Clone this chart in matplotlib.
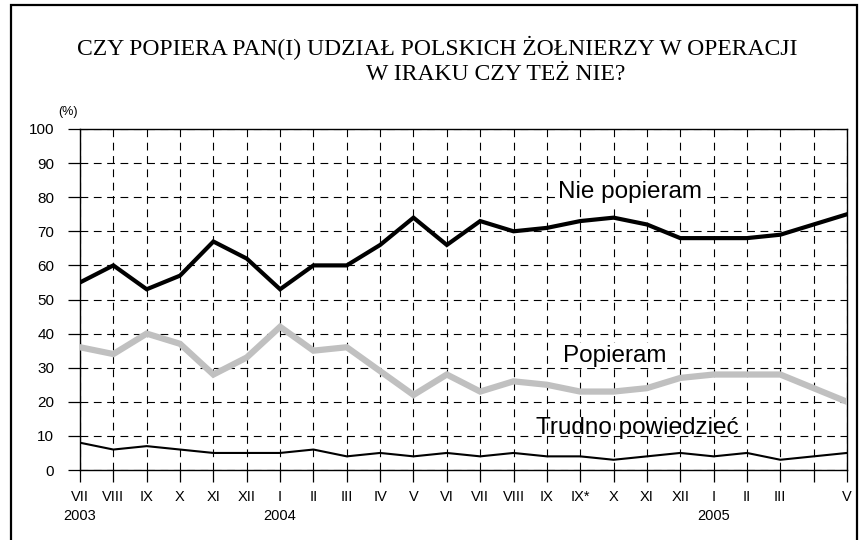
import matplotlib
matplotlib.use("Agg")
import matplotlib.pyplot as plt
from matplotlib.patches import Rectangle

# month labels on the x axis (IV 2005 has no survey)
months = ["VII", "VIII", "IX", "X", "XI", "XII", "I", "II", "III", "IV", "V", "VI",
          "VII", "VIII", "IX", "IX*", "X", "XI", "XII", "I", "II", "III", "", "V"]
years = {0: "2003", 6: "2004", 19: "2005"}
survey_idx = [i for i in range(len(months)) if months[i] != ""]

nie_popieram = [55, 60, 53, 57, 67, 62, 53, 60, 60, 66, 74, 66,
                73, 70, 71, 73, 74, 72, 68, 68, 68, 69, 75]
popieram = [36, 34, 40, 37, 28, 33, 42, 35, 36, 29, 22, 28,
            23, 26, 25, 23, 23, 24, 27, 28, 28, 28, 20]
trudno = [8, 6, 7, 6, 5, 5, 5, 6, 4, 5, 4, 5,
          4, 5, 4, 4, 3, 4, 5, 4, 5, 3, 5]

W, H = 862, 540
fig = plt.figure(figsize=(W / 100, H / 100), dpi=100)
ax = fig.add_axes([80 / W, 1 - 470 / H, (847 - 80) / W, (470 - 129) / H])

# border around the whole picture
fig.patches.append(Rectangle((11 / W, -0.05), (857 - 11) / W, 1.05 - 5 / H,
                             transform=fig.transFigure, fill=False,
                             edgecolor="black", linewidth=1.6))

ax.plot(survey_idx, popieram, color="#c0c0c0", linewidth=4.5, solid_joinstyle="miter", zorder=3)
ax.plot(survey_idx, nie_popieram, color="black", linewidth=3, solid_joinstyle="miter", zorder=4)
ax.plot(survey_idx, trudno, color="black", linewidth=1.5, zorder=4)

ax.set_xlim(0, len(months) - 1)
ax.set_ylim(0, 100)
ax.set_yticks(range(0, 101, 10))
ax.set_xticks(range(len(months)))
ax.set_xticklabels([m + ("\n" + years[i] if i in years else "\n") for i, m in enumerate(months)],
                   fontsize=10.5, family="Liberation Sans", linespacing=1.45)
for lab in ax.get_yticklabels():
    lab.set_family("Liberation Sans")
    lab.set_fontsize(11)

ax.tick_params(axis="both", direction="out", length=8.5, width=0.9, color="black")
ax.tick_params(axis="x", pad=6)
ax.tick_params(axis="y", pad=10)
ax.grid(True, color="black", linewidth=0.8, linestyle=(0, (7, 5)))
ax.set_axisbelow(True)
for s in ax.spines.values():
    s.set_linewidth(1.0)

ax.text(-0.0156, 1.05, "(%)", transform=ax.transAxes, fontsize=9,
        family="Liberation Sans", ha="center", va="center")

ax.text(16.5, 81.5, "Nie popieram", fontsize=17.5, family="Liberation Sans",
        ha="center", va="center", zorder=5,
        bbox=dict(facecolor="white", edgecolor="none", pad=1))
ax.text(16.05, 33.5, "Popieram", fontsize=17.5, family="Liberation Sans",
        ha="center", va="center", zorder=5,
        bbox=dict(facecolor="white", edgecolor="none", pad=1))
ax.text(16.7, 12.3, "Trudno powiedzieć", fontsize=17.5, family="Liberation Sans",
        ha="center", va="center", zorder=5)

fig.text(437 / W, 1 - 48 / H, "CZY POPIERA PAN(I) UDZIAŁ POLSKICH ŻOŁNIERZY W OPERACJI",
         fontsize=17, family="Liberation Serif", ha="center", va="center")
fig.text(496 / W, 1 - 75 / H, "W IRAKU CZY TEŻ NIE?",
         fontsize=17, family="Liberation Serif", ha="center", va="center")

fig.savefig("out.png", dpi=100)
